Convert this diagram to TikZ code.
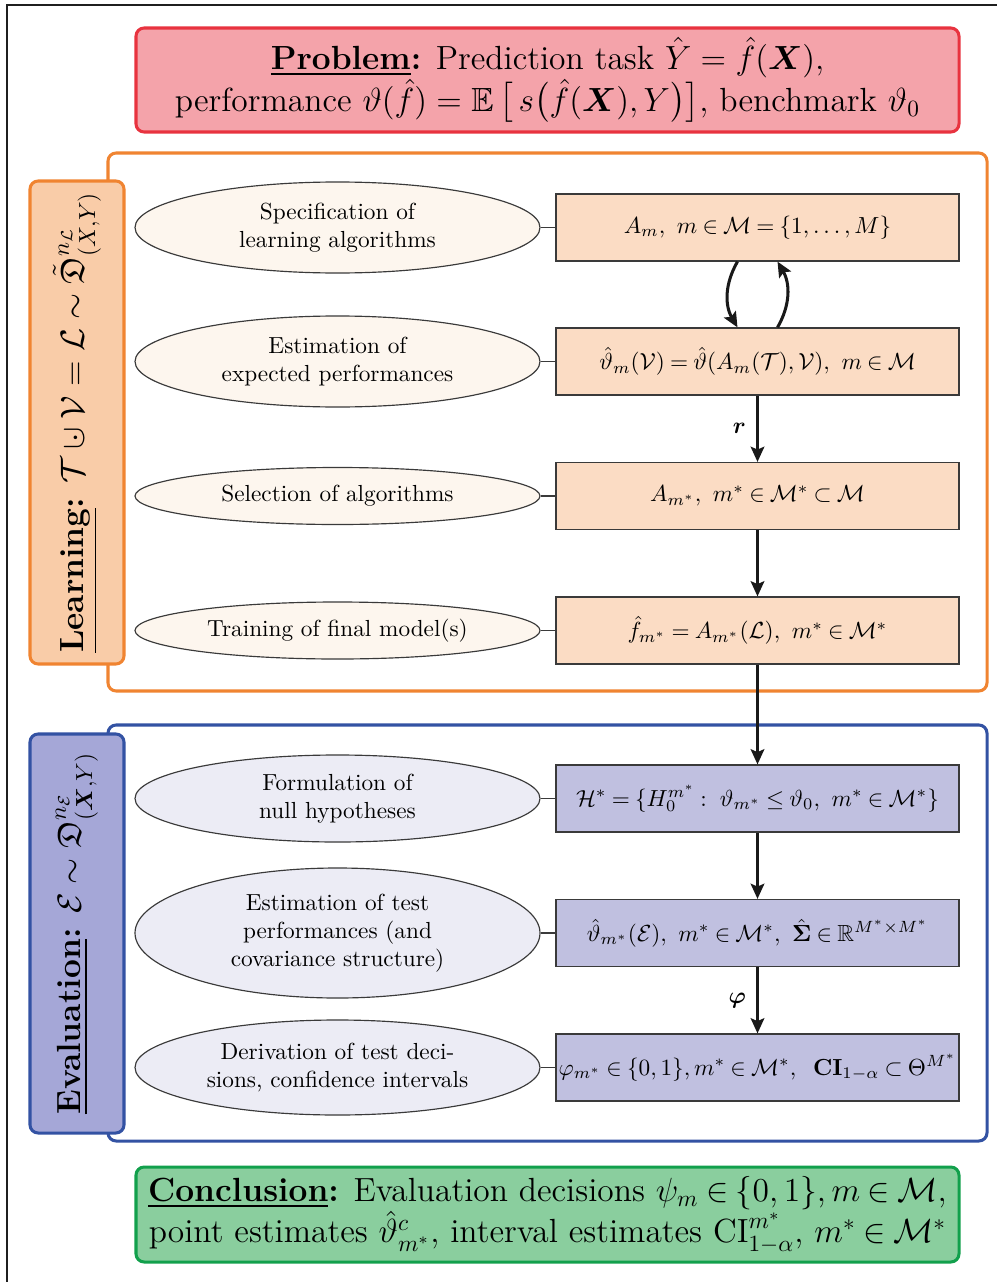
\documentclass[tikz,border=0pt]{standalone}
\usepackage{amsmath,amssymb,bm}
\usetikzlibrary{shapes.geometric,arrows.meta}
\definecolor{probfill}{HTML}{F4A3AA}
\definecolor{probdraw}{HTML}{E8333F}
\definecolor{learndraw}{HTML}{F08431}
\definecolor{learnlab}{HTML}{F9CCA8}
\definecolor{learnbox}{HTML}{FBDCC4}
\definecolor{learnell}{HTML}{FDF6EE}
\definecolor{evaldraw}{HTML}{3352A3}
\definecolor{evallab}{HTML}{A5A7D7}
\definecolor{evalbox}{HTML}{C0C0E0}
\definecolor{evalell}{HTML}{ECECF5}
\definecolor{concfill}{HTML}{8ACE9E}
\definecolor{concdraw}{HTML}{12A04C}
\definecolor{edge}{HTML}{3A3A3A}
\newcommand{\mycupdot}{\mathbin{\ooalign{$\cup$\cr\hidewidth$\cdot$\hidewidth\cr}}}
\def\u{0.43pt}
\tikzset{
  bigbox/.style={rectangle, rounded corners=3.5pt, line width=1.3pt, align=center, inner sep=0pt},
  framebox/.style={rectangle, rounded corners=3.5pt, line width=1.3pt, fill=white, inner sep=0pt},
  labelbox/.style={rectangle, rounded corners=3.5pt, line width=1.3pt, rotate=90, font=\Large, inner sep=0pt},
  ellnode/.style={ellipse, draw=edge, line width=0.5pt, align=center, inner sep=0pt, minimum width={405*\u}},
  mathbox/.style={rectangle, draw=edge, line width=0.5pt, inner sep=0pt, minimum width={403*\u}, minimum height={67*\u}, font={\thickmuskip=4mu plus 2mu}},
  connline/.style={draw=edge, line width=0.5pt},
  arrowline/.style={draw=black!90, line width=1.3pt, -{Stealth[length=6.5pt,width=5.8pt,inset=1.2pt]}},
}
\begin{document}
\begin{tikzpicture}[x=0.43pt,y=-0.43pt]
\useasboundingbox (0,0) rectangle (997,1282);
\draw[line width=0.9pt, black!88] (7,1300) -- (7,5) -- (1010,5);

% Problem
\node[bigbox, fill=probfill, draw=probdraw, minimum width={823*\u}, minimum height={104*\u}, font=\Large] (problem) at (547.5,80)
 {\underline{\textbf{Problem}}\textbf{:} Prediction task $\hat Y = \hat f(\bm X)$,\\
  performance $\vartheta(\hat f) = \mathbb E\,\big[\,s\big(\hat f(\bm X),Y\big)\big]$, benchmark $\vartheta_0$};

% Frames
\node[framebox, draw=learndraw, minimum width={879*\u}, minimum height={538*\u}] (learnframe) at (547.5,422) {};
\node[framebox, draw=evaldraw, minimum width={879*\u}, minimum height={416*\u}] (evalframe) at (547.5,933) {};

% Labels
\node[labelbox, fill=learnlab, draw=learndraw, minimum width={483*\u}, minimum height={94*\u}] (learnlabel) at (77,422.5)
 {\underline{\textbf{Learning}}\textbf{:} $\mathcal T\mycupdot\mathcal V = \mathcal L\sim\tilde{\mathfrak D}^{n_{\mathcal L}}_{(X,Y)}$};
\node[labelbox, fill=evallab, draw=evaldraw, minimum width={399*\u}, minimum height={94*\u}] (evallabel) at (77,933.5)
 {\underline{\textbf{Evaluation}}\textbf{:} $\mathcal E\sim\mathfrak D^{n_{\mathcal E}}_{(\bm X,Y)}$};

% Learning ellipses
\node[ellnode, fill=learnell, minimum height={91*\u}] (e1) at (337.5,227.5) {Specification of\\learning algorithms};
\node[ellnode, fill=learnell, minimum height={91*\u}] (e2) at (337.5,361.5) {Estimation of\\expected performances};
\node[ellnode, fill=learnell, minimum height={57*\u}] (e3) at (337.5,496) {Selection of algorithms};
\node[ellnode, fill=learnell, minimum height={57*\u}] (e4) at (337.5,630.5) {Training of final model(s)};

% Learning boxes
\node[mathbox, fill=learnbox] (b1) at (757.5,227.5) {$A_m,\ m \in \mathcal M = \{1,\dots,M\}$};
\node[mathbox, fill=learnbox] (b2) at (757.5,361.5) {$\hat\vartheta_m(\mathcal V) = \hat\vartheta(A_m(\mathcal T),\mathcal V),\ m\in\mathcal M$};
\node[mathbox, fill=learnbox] (b3) at (757.5,496) {$A_{m^*},\ m^*\in\mathcal M^*\subset\mathcal M$};
\node[mathbox, fill=learnbox] (b4) at (757.5,630.5) {$\hat f_{m^*} = A_{m^*}(\mathcal L),\ m^*\in\mathcal M^*$};

% Evaluation ellipses
\node[ellnode, fill=evalell, minimum height={87*\u}] (e5) at (337.5,798.5) {Formulation of\\null hypotheses};
\node[ellnode, fill=evalell, minimum height={130*\u}] (e6) at (337.5,933) {Estimation of test\\performances (and\\covariance structure)};
\node[ellnode, fill=evalell, minimum height={95*\u}] (e7) at (337.5,1067.5) {Derivation of test deci-\\sions, confidence intervals};

% Evaluation boxes
\node[mathbox, fill=evalbox] (b5) at (757.5,798.5) {$\mathcal H^* = \{H_0^{m^*} :\ \vartheta_{m^*} \le \vartheta_0,\ m^* \in \mathcal M^*\}$};
\node[mathbox, fill=evalbox] (b6) at (757.5,933) {$\hat\vartheta_{m^*}(\mathcal E),\ m^* \in \mathcal M^*,\ \hat{\bm\Sigma} \in \mathbb R^{M^*\times M^*}$};
\node[mathbox, fill=evalbox] (b7) at (757.5,1067.5) {$\varphi_{m^*} \in \{0,1\}, m^* \in \mathcal M^*,\;\ \mathbf{CI}_{1-\alpha} \subset \Theta^{M^*}$};

% Conclusion
\node[bigbox, fill=concfill, draw=concdraw, minimum width={823*\u}, minimum height={95*\u}, font={\Large\thickmuskip=4mu plus 2mu}] (conc) at (547.5,1214.5)
 {\underline{\textbf{Conclusion}}\textbf{:} Evaluation decisions $\psi_m\in\{0,1\}, m\in\mathcal M$,\\
  point estimates $\hat\vartheta^c_{m^*}$, interval estimates $\mathrm{CI}^{m^*}_{1-\alpha}$, $m^*\in\mathcal M^*$};

% Connectors ellipse - box
\foreach \i in {1,...,7} {\draw[connline] (e\i.east) -- (b\i.west);}

% Arrows
\draw[arrowline] ([xshift=-8.6pt]b1.south) to[bend right=30] ([xshift=-8.6pt]b2.north);
\draw[arrowline] ([xshift=8.6pt]b2.north) to[bend right=30] ([xshift=8.6pt]b1.south);
\draw[arrowline] (b2) -- node[left, xshift=-1pt]{$\bm r$} (b3);
\draw[arrowline] (b3) -- (b4);
\draw[arrowline] (b4) -- (b5);
\draw[arrowline] (b5) -- (b6);
\draw[arrowline] (b6) -- node[left, xshift=-1pt]{$\bm\varphi$} (b7);
\end{tikzpicture}
\end{document}
